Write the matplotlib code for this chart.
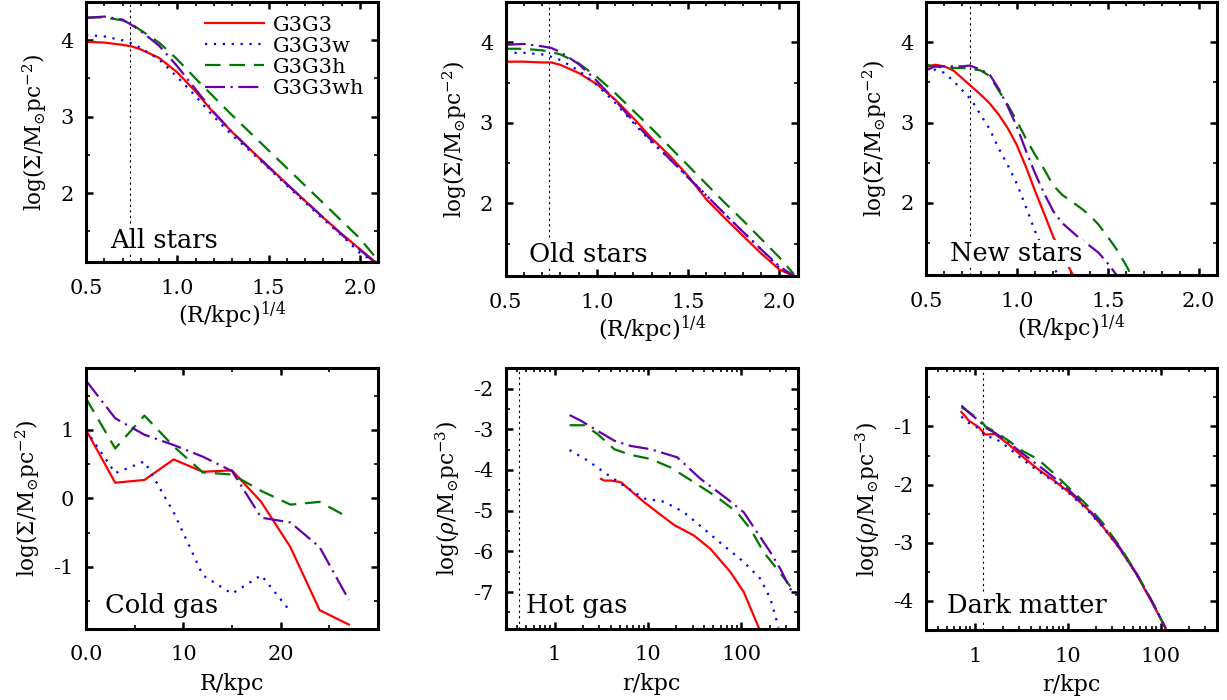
import numpy as np
import matplotlib
matplotlib.use('Agg')
import matplotlib.pyplot as plt
from matplotlib.ticker import MultipleLocator, FormatStrFormatter, LogLocator, NullFormatter

plt.rcParams['font.family'] = ['DejaVu Serif']
plt.rcParams['mathtext.fontset'] = 'dejavuserif'

# series names and styles
nombres = ['G3G3', 'G3G3w', 'G3G3h', 'G3G3wh']
colores = ['#ff0000', '#0000ff', '#007800', '#6600aa']
estilos = ['-', (0, (1, 3)), (0, (7, 4)), (0, (9, 2.5, 1, 2.5))]

# All stars, x = (R/kpc)^(1/4)
x_all = [0.50, 0.60, 0.70, 0.75, 0.80, 0.90, 1.00, 1.10, 1.20, 1.30, 1.40, 1.50, 1.60, 1.70, 1.80, 1.90, 2.00, 2.08]
all_g3g3 = [3.98, 3.97, 3.94, 3.92, 3.88, 3.77, 3.58, 3.33, 3.05, 2.80, 2.57, 2.35, 2.12, 1.90, 1.68, 1.47, 1.27, 1.11]
all_g3g3w = [4.07, 4.05, 4.00, 3.96, 3.90, 3.75, 3.52, 3.27, 3.00, 2.76, 2.55, 2.33, 2.10, 1.88, 1.66, 1.45, 1.22, 1.10]
x_all_h = [0.50, 0.60, 0.70, 0.75, 0.80, 0.90, 1.00, 1.10, 1.20, 1.30, 1.40, 1.50, 1.60, 1.70, 1.80, 1.90, 2.00, 2.09]
all_g3g3h = [4.30, 4.30, 4.26, 4.21, 4.13, 3.97, 3.75, 3.50, 3.26, 3.02, 2.79, 2.56, 2.33, 2.10, 1.87, 1.64, 1.41, 1.15]
all_g3g3wh = [4.29, 4.31, 4.27, 4.20, 4.12, 3.93, 3.66, 3.36, 3.06, 2.80, 2.57, 2.34, 2.12, 1.90, 1.68, 1.46, 1.26, 1.10]

# Old stars
x_old = [0.50, 0.60, 0.70, 0.75, 0.80, 0.90, 1.00, 1.10, 1.20, 1.30, 1.40, 1.50, 1.60, 1.70, 1.80, 1.90, 2.00, 2.08]
old_g3g3 = [3.76, 3.76, 3.75, 3.75, 3.72, 3.62, 3.48, 3.29, 3.06, 2.81, 2.59, 2.34, 2.05, 1.82, 1.60, 1.38, 1.18, 1.10]
old_g3g3w = [3.87, 3.87, 3.85, 3.82, 3.78, 3.65, 3.47, 3.25, 3.00, 2.76, 2.55, 2.33, 2.10, 1.87, 1.65, 1.43, 1.20, 1.10]
old_g3g3h = [3.92, 3.92, 3.90, 3.88, 3.85, 3.74, 3.57, 3.37, 3.15, 2.93, 2.70, 2.47, 2.24, 2.01, 1.79, 1.56, 1.33, 1.12]
old_g3g3wh = [3.97, 3.98, 3.95, 3.93, 3.88, 3.73, 3.52, 3.28, 3.02, 2.78, 2.55, 2.32, 2.10, 1.87, 1.65, 1.43, 1.22, 1.10]

# New stars
x_new_r = [0.50, 0.55, 0.60, 0.65, 0.70, 0.75, 0.80, 0.85, 0.90, 0.95, 1.00, 1.05, 1.10, 1.15, 1.20, 1.25, 1.31]
new_g3g3 = [3.69, 3.72, 3.70, 3.65, 3.55, 3.45, 3.35, 3.24, 3.10, 2.93, 2.72, 2.45, 2.15, 1.87, 1.58, 1.35, 1.10]
x_new_b = [0.50, 0.55, 0.60, 0.65, 0.70, 0.75, 0.80, 0.85, 0.90, 0.95, 1.00, 1.05, 1.10, 1.15, 1.20, 1.23]
new_g3g3w = [3.60, 3.66, 3.62, 3.52, 3.40, 3.28, 3.10, 2.92, 2.68, 2.47, 2.24, 1.95, 1.65, 1.40, 1.20, 1.10]
x_new_g = [0.50, 0.60, 0.70, 0.80, 0.85, 0.90, 0.95, 1.00, 1.05, 1.10, 1.15, 1.20, 1.25, 1.30, 1.35, 1.40, 1.45, 1.50, 1.55, 1.60, 1.63]
new_g3g3h = [3.72, 3.68, 3.68, 3.65, 3.58, 3.40, 3.22, 3.02, 2.80, 2.60, 2.42, 2.22, 2.10, 2.02, 1.94, 1.85, 1.73, 1.58, 1.42, 1.23, 1.10]
x_new_p = [0.50, 0.55, 0.60, 0.70, 0.74, 0.80, 0.85, 0.90, 0.95, 1.00, 1.05, 1.10, 1.15, 1.20, 1.25, 1.30, 1.35, 1.40, 1.45, 1.50, 1.55]
new_g3g3wh = [3.65, 3.70, 3.70, 3.70, 3.71, 3.66, 3.60, 3.42, 3.20, 2.95, 2.65, 2.37, 2.12, 1.90, 1.75, 1.65, 1.55, 1.47, 1.38, 1.25, 1.10]

# Cold gas, R/kpc
x_cold = [0, 3, 6, 9, 12, 15, 18, 21, 24, 27]
cold_g3g3 = [1.00, 0.23, 0.27, 0.57, 0.39, 0.41, -0.05, -0.71, -1.63, -1.84]
cold_g3g3w = [1.00, 0.37, 0.54, -0.20, -1.12, -1.39, -1.12, -1.65]
cold_g3g3h = [1.46, 0.73, 1.21, 0.76, 0.38, 0.35, 0.11, -0.09, -0.05, -0.28]
cold_g3g3wh = [1.72, 1.17, 0.93, 0.78, 0.61, 0.40, -0.28, -0.35, -0.71, -1.48]

# Hot gas, r/kpc
x_hot_r = [3.14, 3.41, 4.02, 5.13, 6.56, 9.1, 12.6, 19.0, 31.0, 46.7, 76.4, 106, 153]
hot_g3g3 = [-4.22, -4.26, -4.26, -4.30, -4.51, -4.79, -5.04, -5.35, -5.61, -5.94, -6.51, -7.00, -7.87]
x_hot_b = [1.45, 2.27, 3.41, 5.57, 9.1, 14.9, 24.3, 39.7, 64.8, 106, 159, 204, 250]
hot_g3g3w = [-3.51, -3.77, -4.06, -4.39, -4.70, -4.78, -5.04, -5.45, -5.86, -6.26, -6.67, -7.16, -7.87]
x_hot_g = [1.45, 2.09, 2.90, 4.36, 6.56, 10.7, 17.5, 31.0, 55.0, 89.9, 125, 173, 240, 307, 392]
hot_g3g3h = [-2.90, -2.90, -3.12, -3.49, -3.63, -3.73, -3.94, -4.30, -4.67, -5.04, -5.45, -6.02, -6.43, -6.75, -7.08]
x_hot_p = [1.45, 1.92, 2.90, 4.36, 6.56, 10.7, 20.6, 36.6, 70.3, 106, 147, 204, 261, 333, 392]
hot_g3g3wh = [-2.65, -2.79, -3.04, -3.28, -3.41, -3.49, -3.69, -4.22, -4.71, -5.04, -5.53, -6.02, -6.43, -6.92, -7.08]

# Dark matter, r/kpc
x_dm = [0.72, 0.864, 1.10, 1.235, 1.30, 1.65, 2.29, 3.17, 4.75, 7.14, 10.7, 16.1, 24.1, 36.2, 54.4, 81.6, 113]
dm_g3g3 = [-0.75, -0.90, -1.01, -1.10, -1.14, -1.13, -1.30, -1.50, -1.73, -1.93, -2.15, -2.41, -2.73, -3.10, -3.53, -4.04, -4.47]
dm_g3g3w = [-0.83, -0.94, -1.03, -1.12, -1.17, -1.20, -1.36, -1.55, -1.76, -1.95, -2.17, -2.43, -2.74, -3.10, -3.53, -4.02, -4.47]
dm_g3g3h = [-0.67, -0.75, -0.88, -0.95, -1.00, -1.09, -1.24, -1.41, -1.56, -1.81, -2.08, -2.35, -2.67, -3.06, -3.51, -4.02, -4.47]
dm_g3g3wh = [-0.64, -0.76, -0.90, -0.97, -1.02, -1.11, -1.27, -1.45, -1.66, -1.88, -2.12, -2.39, -2.71, -3.08, -3.52, -4.03, -4.47]

fig = plt.figure(figsize=(12.27, 7.0), dpi=100)

posiciones = [
    [0.0701, 0.6257, 0.2380, 0.3714],
    [0.4121, 0.6057, 0.2380, 0.3914],
    [0.7547, 0.6067, 0.2369, 0.3904],
    [0.0701, 0.1019, 0.2380, 0.3720],
    [0.4121, 0.1019, 0.2380, 0.3720],
    [0.7547, 0.1000, 0.2369, 0.3739],
]
axs = [fig.add_axes(p) for p in posiciones]

datos = [
    [(x_all, all_g3g3), (x_all, all_g3g3w), (x_all_h, all_g3g3h), (x_all, all_g3g3wh)],
    [(x_old, old_g3g3), (x_old, old_g3g3w), (x_old, old_g3g3h), (x_old, old_g3g3wh)],
    [(x_new_r, new_g3g3), (x_new_b, new_g3g3w), (x_new_g, new_g3g3h), (x_new_p, new_g3g3wh)],
    [(x_cold, cold_g3g3), (x_cold[:8], cold_g3g3w), (x_cold, cold_g3g3h), (x_cold, cold_g3g3wh)],
    [(x_hot_r, hot_g3g3), (x_hot_b, hot_g3g3w), (x_hot_g, hot_g3g3h), (x_hot_p, hot_g3g3wh)],
    [(x_dm, dm_g3g3), (x_dm, dm_g3g3w), (x_dm, dm_g3g3h), (x_dm, dm_g3g3wh)],
]
textos = ['All stars', 'Old stars', 'New stars', 'Cold gas', 'Hot gas', 'Dark matter']
texto_pos = [(0.082, 0.054), (0.080, 0.052), (0.083, 0.053), (0.065, 0.06), (0.070, 0.06), (0.071, 0.064)]
lineas_v = [0.74, 0.74, 0.74, None, 0.42, 1.23]

ylab_sigma = r'log($\Sigma$/M$_{\odot}$pc$^{-2}$)'
ylab_rho = r'log($\rho$/M$_{\odot}$pc$^{-3}$)'

for i, ax in enumerate(axs):
    for j in range(4):
        xs, ys = datos[i][j]
        ax.plot(xs, ys, color=colores[j], linestyle=estilos[j], lw=1.6, label=nombres[j])
    if lineas_v[i] is not None:
        ax.axvline(lineas_v[i], color='k', lw=0.8, linestyle=(0, (2, 3)), zorder=0)
    ax.text(texto_pos[i][0], texto_pos[i][1], textos[i], transform=ax.transAxes,
            fontsize=18.5, va='baseline', ha='left', zorder=5,
            bbox=dict(facecolor='white', edgecolor='none', pad=1))
    for s in ax.spines.values():
        s.set_linewidth(2.2)
    ax.tick_params(which='both', direction='in', top=True, right=True, labelsize=15)
    ax.tick_params(which='major', length=5, width=1.8)
    ax.tick_params(which='minor', length=3, width=1.2)
    ax.tick_params(axis='x', which='major', pad=12)
    ax.tick_params(axis='y', which='major', pad=9)

# top row
for ax in axs[:3]:
    ax.set_xlim(0.5, 2.1)
    ax.set_ylim(1.1, 4.5)
    ax.xaxis.set_major_locator(MultipleLocator(0.5))
    ax.xaxis.set_minor_locator(MultipleLocator(0.1))
    ax.xaxis.set_major_formatter(FormatStrFormatter('%.1f'))
    ax.yaxis.set_major_locator(MultipleLocator(1))
    ax.yaxis.set_minor_locator(MultipleLocator(0.5))
    ax.yaxis.set_major_formatter(FormatStrFormatter('%d'))
    ax.set_xlabel(r'(R/kpc)$^{1/4}$', fontsize=16, labelpad=1)
    ax.set_ylabel(ylab_sigma, fontsize=15.5, labelpad=8)

# cold gas
ax = axs[3]
ax.set_xlim(0, 30)
ax.set_ylim(-1.9, 1.9)
ax.set_xticks([0, 10, 20])
ax.set_xticklabels(['0.0', '10', '20'])
ax.xaxis.set_minor_locator(MultipleLocator(5))
ax.yaxis.set_major_locator(MultipleLocator(1))
ax.yaxis.set_minor_locator(MultipleLocator(0.5))
ax.yaxis.set_major_formatter(FormatStrFormatter('%d'))
ax.set_xlabel('R/kpc', fontsize=16, labelpad=6)
ax.set_ylabel(ylab_sigma, fontsize=15.5, labelpad=8)

# hot gas and dark matter
for ax, yl, yt in [(axs[4], (-7.9, -1.5), [-7, -6, -5, -4, -3, -2]), (axs[5], (-4.5, 0.0), [-4, -3, -2, -1])]:
    ax.set_xscale('log')
    ax.set_xlim(0.3, 400)
    ax.set_ylim(*yl)
    ax.set_xticks([1, 10, 100])
    ax.set_xticklabels(['1', '10', '100'])
    ax.xaxis.set_minor_locator(LogLocator(base=10, subs=np.arange(2, 10)))
    ax.xaxis.set_minor_formatter(NullFormatter())
    ax.set_yticks(yt)
    ax.yaxis.set_minor_locator(MultipleLocator(0.5))
    ax.yaxis.set_major_formatter(FormatStrFormatter('%d'))
    ax.set_xlabel('r/kpc', fontsize=16, labelpad=6)
    ax.set_ylabel(ylab_rho, fontsize=15.5, labelpad=8)

axs[0].legend(loc='upper right', bbox_to_anchor=(1.0, 1.0), frameon=False, fontsize=15,
              handlelength=2.8, handletextpad=0.45, labelspacing=0.1, borderaxespad=0.25)

plt.savefig('out.png', dpi=100)
